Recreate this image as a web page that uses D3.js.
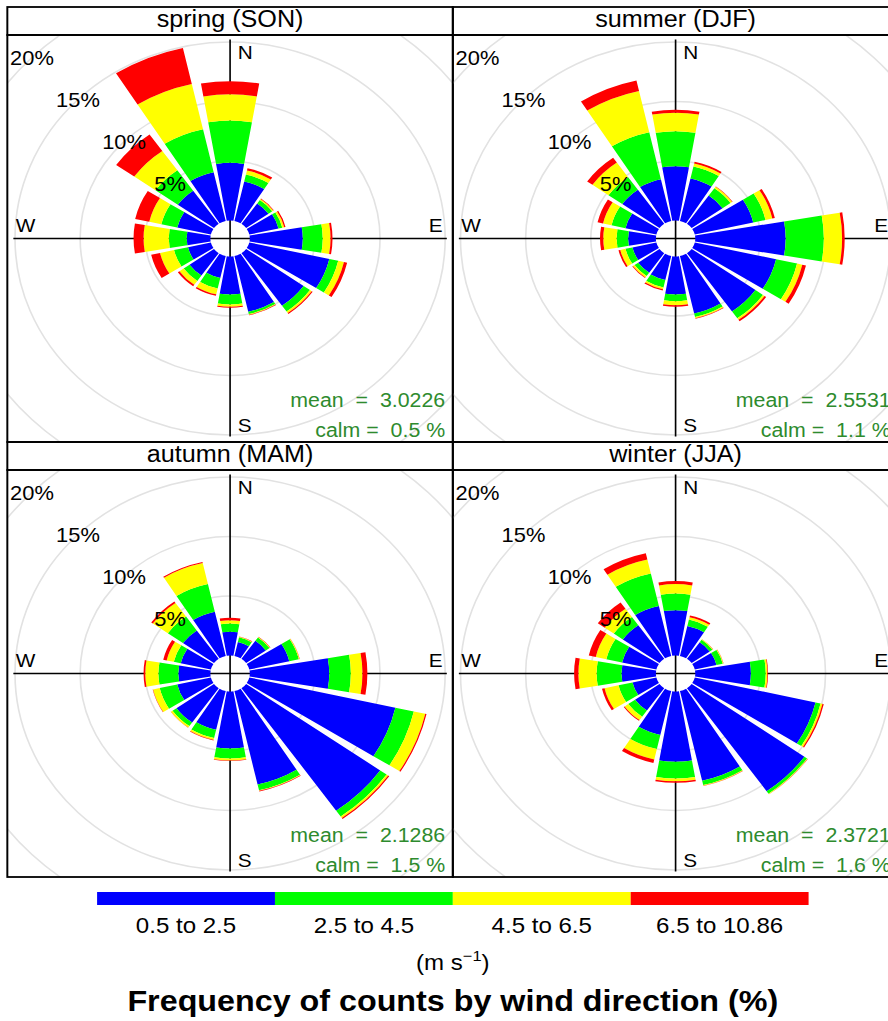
<!DOCTYPE html>
<html>
<head>
<meta charset="utf-8">
<script src="https://cdn.jsdelivr.net/npm/d3@7"></script>
<style>
  body { margin: 0; background: #fff; }
  text { font-family: "Liberation Sans", Arial, Helvetica, sans-serif; }
</style>
</head>
<body>
<svg id="chart" width="888" height="1021"></svg>
<script>
// compass bearings of the 16 sectors (deg, clockwise from north)
const directions = [0, 22.5, 45, 67.5, 90, 112.5, 135, 157.5, 180, 202.5, 225, 247.5, 270, 292.5, 315, 337.5];
const speedBins = ['0.5 to 2.5', '2.5 to 4.5', '4.5 to 6.5', '6.5 to 10.86'];
const binColours = ['#0000ff', '#00ff00', '#ffff00', '#ff0000'];
const gridPct = [5, 10, 15, 20];

const panelTitles = ['spring (SON)', 'summer (DJF)', 'autumn (MAM)', 'winter (JJA)'];
const meanSpeed = ['3.0226', '2.5531', '2.1286', '2.3721'];
const calmPct = ['0.5', '1.1', '1.5', '1.6'];

// cumulative frequency (%) at the top of each speed bin, one row per direction
const spring = [
  [4.85, 8.4, 10.6, 11.7], [3.4, 4.0, 4.35, 4.55], [2.1, 2.45, 2.55, 2.6], [2.3, 2.6, 2.75, 2.85],
  [4.07, 5.6, 6.2, 6.35], [6.3, 7.0, 7.45, 7.7], [5.4, 6.0, 6.15, 6.25], [4.8, 5.0, 5.05, 5.1],
  [3.2, 4.03, 4.23, 4.3], [1.9, 2.8, 3.3, 3.43], [2.3, 2.85, 3.25, 3.4], [1.8, 2.9, 4.0, 4.7],
  [1.82, 3.2, 5.13, 5.9], [2.65, 3.9, 4.85, 5.96], [3.4, 5.5, 7.5, 9.2], [4.2, 7.9, 11.8, 14.9]
];
const summer = [
  [4.56, 7.5, 9.05, 9.3], [3.66, 4.7, 4.95, 5.1], [2.9, 3.65, 3.8, 3.85], [4.6, 5.57, 6.1, 6.3],
  [6.94, 9.87, 11.27, 11.47], [6.4, 8.05, 8.46, 8.75], [6.0, 6.7, 6.85, 7.0], [4.95, 5.25, 5.35, 5.4],
  [3.19, 3.75, 4.09, 4.23], [2.07, 2.7, 2.85, 2.97], [2.0, 2.35, 2.5, 2.55], [1.88, 2.43, 2.84, 2.98],
  [2.13, 3.02, 4.04, 4.29], [2.43, 3.53, 4.2, 4.63], [3.5, 4.8, 6.3, 6.8], [3.6, 7.65, 11.2, 12.1]
];
const autumn = [
  [2.0, 2.69, 2.97, 3.17], [1.2, 1.6, 1.65, 1.68], [1.85, 2.2, 2.25, 2.28], [3.15, 3.9, 3.95, 3.97],
  [6.1, 7.76, 8.65, 9.03], [11.5, 12.95, 13.85, 13.95], [12.6, 13.2, 13.35, 13.45], [8.05, 8.55, 8.6, 8.65],
  [4.79, 5.63, 5.8, 5.85], [3.34, 4.05, 4.2, 4.25], [3.53, 3.9, 4.05, 4.07], [2.65, 4.03, 4.55, 4.58],
  [2.46, 3.99, 5.0, 5.13], [2.37, 2.92, 3.48, 3.75], [2.92, 4.34, 5.75, 5.9], [3.8, 6.2, 8.0, 8.1]
];
const winter = [
  [3.81, 5.21, 6.0, 6.25], [2.58, 3.13, 3.34, 3.49], [1.7, 1.95, 2.0, 2.02], [1.71, 2.2, 2.25, 2.27],
  [4.27, 5.41, 5.54, 5.59], [9.5, 9.9, 10.05, 10.15], [10.6, 10.85, 10.9, 10.92], [7.73, 8.1, 8.15, 8.18],
  [5.91, 7.31, 7.54, 7.67], [3.79, 5.0, 5.9, 6.2], [2.3, 2.94, 3.28, 3.36], [1.88, 2.98, 4.08, 4.28],
  [2.64, 4.55, 5.95, 6.28], [2.7, 3.94, 4.77, 5.32], [3.45, 4.3, 5.15, 5.8], [4.3, 7.1, 8.3, 8.85]
];
const seasons = [spring, summer, autumn, winter];

// the picture is stretched horizontally; draw square panels then widen
const SX = 1.0946;
const leftX = 6.7;
const topY = 7;
const panelW = 407;
const panelH = 407;
const stripH = 28;
const halfWedge = 9.75;

const svg = d3.select('#chart');
const defs = svg.append('defs');
const root = svg.append('g').attr('transform', `scale(${SX},1)`);

const r = d3.scaleLinear().domain([0, 20]).range([18, 256]);
const arc = d3.arc();
const rad = d => d * Math.PI / 180;

seasons.forEach((season, i) => {
  const col = i % 2;
  const row = Math.floor(i / 2);
  const x0 = leftX + col * panelW;
  const y0 = topY + row * (stripH + panelH);
  const py = y0 + stripH;
  const cx = x0 + panelW / 2;
  const cy = py + panelH / 2;

  defs.append('clipPath').attr('id', `clip${i}`)
    .append('rect')
    .attr('x', x0).attr('y', py)
    .attr('width', panelW).attr('height', panelH);

  const panel = root.append('g').attr('clip-path', `url(#clip${i})`);
  const g = panel.append('g').attr('transform', `translate(${cx},${cy})`);

  g.selectAll('.grid')
    .data(gridPct)
    .enter().append('circle')
    .attr('r', d => r(d))
    .style('fill', 'none')
    .style('stroke', '#e2e2e2')
    .style('stroke-width', 1.5);

  g.append('line').attr('x1', -198).attr('x2', 198).attr('y1', 0).attr('y2', 0)
    .style('stroke', '#000').style('stroke-width', 1.5);
  g.append('line').attr('x1', 0).attr('x2', 0).attr('y1', -199).attr('y2', 198)
    .style('stroke', '#000').style('stroke-width', 1.5);

  // one path per direction and speed bin, stacked outward
  const segs = [];
  season.forEach((cum, k) => {
    cum.forEach((v, b) => {
      segs.push({ dir: directions[k], lo: b === 0 ? 0 : cum[b - 1], hi: v, bin: b });
    });
  });
  g.selectAll('.seg')
    .data(segs)
    .enter().append('path')
    .attr('d', d => arc({
      innerRadius: r(d.lo),
      outerRadius: r(d.hi),
      startAngle: rad(d.dir - halfWedge),
      endAngle: rad(d.dir + halfWedge)
    }))
    .style('fill', d => binColours[d.bin]);

  g.selectAll('.pct')
    .data(gridPct)
    .enter().append('text')
    .attr('x', d => -r(d) * Math.SQRT1_2)
    .attr('y', d => -r(d) * Math.SQRT1_2)
    .attr('dy', '0.36em')
    .style('text-anchor', 'middle')
    .style('font-size', '20px')
    .style('fill', '#000')
    .text(d => d + '%');

  const compass = [
    { t: 'N', x: 7, y: -180 }, { t: 'E', x: 181.5, y: -6.5 },
    { t: 'S', x: 7, y: 194 }, { t: 'W', x: -195.8, y: -6.5 }
  ];
  g.selectAll('.cmp')
    .data(compass)
    .enter().append('text')
    .attr('x', d => d.x)
    .attr('y', d => d.y)
    .style('font-size', '19px')
    .style('fill', '#000')
    .text(d => d.t);

  panel.append('text')
    .attr('x', x0 + panelW - 7)
    .attr('y', py + panelH - 34.5)
    .attr('xml:space', 'preserve')
    .style('white-space', 'pre')
    .style('text-anchor', 'end')
    .style('font-size', '19.5px')
    .style('fill', '#2e8b2e')
    .text(`mean  =  ${meanSpeed[i]}`);
  panel.append('text')
    .attr('x', x0 + panelW - 7)
    .attr('y', py + panelH - 5)
    .attr('xml:space', 'preserve')
    .style('white-space', 'pre')
    .style('text-anchor', 'end')
    .style('font-size', '19.5px')
    .style('fill', '#2e8b2e')
    .text(`calm =  ${calmPct[i]} %`);

  root.append('rect')
    .attr('x', x0).attr('y', y0)
    .attr('width', panelW).attr('height', stripH)
    .style('fill', 'none').style('stroke', '#000').style('stroke-width', 1.8);
  root.append('rect')
    .attr('x', x0).attr('y', py)
    .attr('width', panelW).attr('height', panelH)
    .style('fill', 'none').style('stroke', '#000').style('stroke-width', 1.8);
  root.append('text')
    .attr('x', cx)
    .attr('y', y0 + 20.5)
    .style('text-anchor', 'middle')
    .style('font-size', '23px')
    .style('fill', '#000')
    .text(panelTitles[i]);
});

// colour key under the panels
const keyW = 650;
const keyX = d3.scaleBand()
  .domain(speedBins)
  .range([leftX + panelW - keyW / 2, leftX + panelW + keyW / 2]);
const key = root.append('g');
key.selectAll('rect')
  .data(speedBins)
  .enter().append('rect')
  .attr('x', d => keyX(d))
  .attr('y', 892)
  .attr('width', keyX.bandwidth())
  .attr('height', 13)
  .style('fill', (d, k) => binColours[k]);
key.selectAll('text')
  .data(speedBins)
  .enter().append('text')
  .attr('x', d => keyX(d) + keyX.bandwidth() / 2)
  .attr('y', 933)
  .style('text-anchor', 'middle')
  .style('font-size', '22px')
  .style('fill', '#000')
  .text(d => d);

const unit = key.append('text')
  .attr('x', leftX + panelW)
  .attr('y', 970)
  .style('text-anchor', 'middle')
  .style('font-size', '22px')
  .style('fill', '#000');
unit.append('tspan').text('(m s');
unit.append('tspan').attr('dy', -9).style('font-size', '15px').text('\u22121');
unit.append('tspan').attr('dy', 9).text(')');

root.append('text')
  .attr('x', leftX + panelW)
  .attr('y', 1011)
  .style('text-anchor', 'middle')
  .style('font-size', '29.5px')
  .style('font-weight', 'bold')
  .style('fill', '#000')
  .text('Frequency of counts by wind direction (%)');
</script>
</body>
</html>
